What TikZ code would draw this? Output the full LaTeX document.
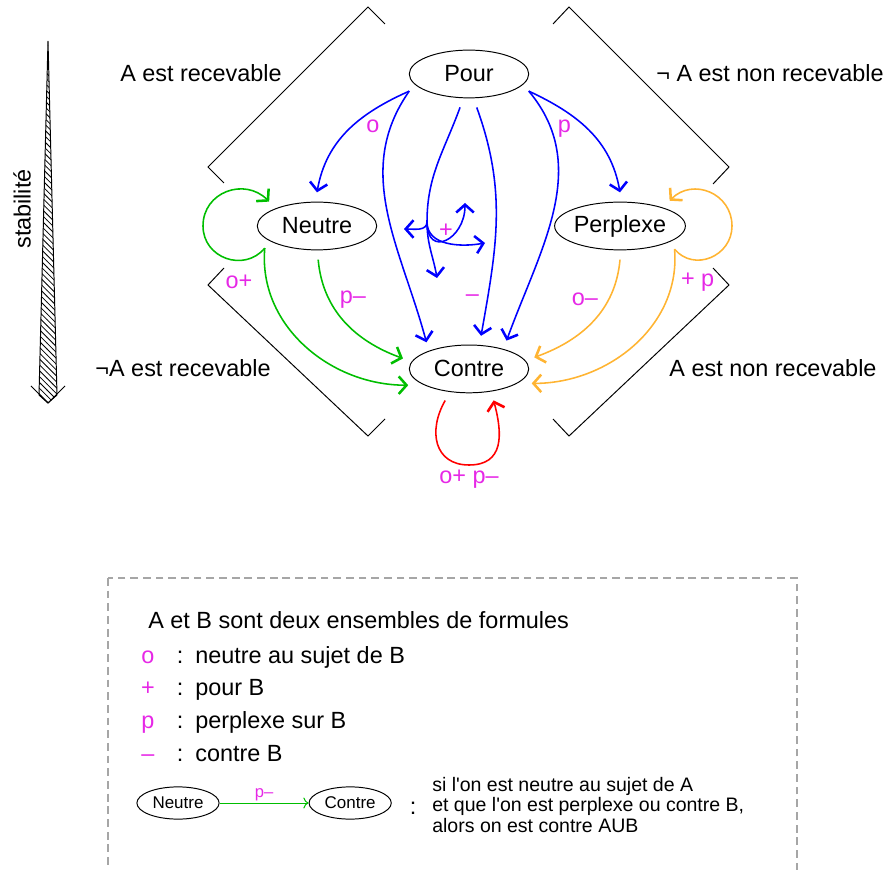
\documentclass[tikz,border=0pt]{standalone}
\usepackage{fontspec}
\setmainfont{Liberation Sans}
\usetikzlibrary{arrows.meta,shapes.geometric,patterns,positioning}

\definecolor{bleu}{RGB}{0,0,255}
\definecolor{vert}{RGB}{0,190,0}
\definecolor{jaune}{RGB}{255,180,50}
\definecolor{rouge}{RGB}{255,0,0}
\definecolor{rose}{RGB}{230,40,230}

\tikzset{
  etat/.style={ellipse, draw, line width=0.5pt, minimum width=2.15cm, minimum height=0.86cm, inner sep=0pt, outer sep=5pt},
  petit/.style={ellipse, draw, line width=0.5pt, minimum width=1.48cm, minimum height=0.58cm, inner sep=0pt, font=\fontsize{8.7}{10}\selectfont},
  lab/.style={text=rose, inner sep=1pt},
  cadre/.style={-, line width=0.5pt}
}

\begin{document}
\begin{tikzpicture}[x=0.018cm, y=0.018cm, ->, >={Straight Barb[length=4pt,width=9pt,line width=1.3pt]}, line width=0.8pt, font=\fontsize{12}{14}\selectfont]
    \useasboundingbox (0,0) rectangle (891,-870);

    \node[etat] (Pour) at (469,-74) {Pour};
    \node[etat, below of=Pour, node distance=5.31cm] (Contre) {Contre};
    \node[etat] (Neutre) at (317,-226) {Neutre};
    \node[etat] (Perplexe) at (620,-226) {Perplexe};

    % brackets
    \draw[cadre] (385,-24) -- (368,-7) -- (208,-167) -- (224,-183);
    \draw[cadre] (224,-268) -- (208,-285) -- (368,-436) -- (385,-419);
    \draw[cadre] (553,-24) -- (569,-7) -- (729,-167) -- (713,-184);
    \draw[cadre] (713,-268) -- (729,-285) -- (569,-436) -- (553,-419);
    \node (recA) at (201,-73) {A est recevable};
    \node (nonrecNA) at (770,-73) {¬ A est non recevable};
    \node (recNA) at (183,-368) {¬A est recevable};
    \node (nonrecA) at (773,-368) {A est non recevable};

    % stabilite
    \draw[cadre, pattern=north west lines] (48,-41) -- (57,-395) -- (48,-403) -- (39,-395) -- cycle;
    \draw[cadre] (31,-386) -- (48,-403) -- (65,-386);
    \node[rotate=90] (stab) at (22,-209) {stabilité};

    % pour
    \path[bleu]
      (Pour.196) edge[out=204, in=80] node[lab, pos=.35, below right] {o} (Neutre.90)
      (Pour.196) edge[out=235, in=105] (Contre.148)
      (Pour.283) edge[out=-70, in=80] node[lab, pos=.85, left=3pt] {–} (Contre.70)
      (Pour.344) edge[out=-50, in=70] (Contre.37)
      (Pour.344) edge[out=-25, in=100] node[lab, pos=.35, below left] {p} (Perplexe.90);
    \coordinate (plus) at (427,-222);
    \coordinate (plusG) at (404,-229);
    \coordinate (plusB) at (437,-278);
    \coordinate (plusD) at (485,-243);
    \coordinate (plusH) at (465,-203);
    \draw[bleu, -] (Pour.255) to[out=250, in=90] (plus);
    \path[bleu]
      (plus) edge[out=-90, in=0] (plusG)
      (plus) edge[out=-90, in=100] (plusB)
      (plus) edge[out=-90, in=190] (plusD)
      (plus) edge[out=-90, in=-90, looseness=2.2] node[lab, pos=.5, above] {+} (plusH);

    % neutre
    \coordinate (boucleN) at (203,-226);
    \draw[vert] (Neutre.203) to[out=230, in=-90, looseness=1.25] (boucleN)
      to[out=90, in=135, looseness=1.25] (Neutre.153);
    \path[vert]
      (Neutre.272) edge[out=-85, in=160] node[lab, pos=.3, right=4pt] {p–} (Contre.171)
      (Neutre.203) edge[out=-95, in=180] node[lab, pos=.15, left=6pt] {o+} (Contre.195);

    % perplexe
    \coordinate (boucleP) at (732,-226);
    \draw[jaune] (Perplexe.337) to[out=-50, in=-90, looseness=1.25] (boucleP)
      to[out=90, in=45, looseness=1.25] (Perplexe.27);
    \path[jaune]
      (Perplexe.270) edge[out=-95, in=20] node[lab, pos=.3, left=4pt] {o–} (Contre.10)
      (Perplexe.337) edge[out=-85, in=0] node[lab, pos=.15, right=3pt] {+ p} (Contre.347);

    % contre
    \coordinate (boucleC) at (469,-465);
    \draw[rouge] (Contre.233) to[out=240, in=180, looseness=1.3] (boucleC)
      to[out=0, in=-75, looseness=1.3] (Contre.308);
    \node[lab, below=1pt of boucleC] (lboucleC) {o+ p–};

    % legende
    \draw[-, gray!70, line width=0.6pt, dash pattern=on 4pt off 2.5pt] (108,-578) rectangle (797,-900);
    \node[anchor=base west] (titre) at (141,-628) {A et B sont deux ensembles de formules};
    \foreach \sym/\txt [count=\i] in {o/neutre au sujet de B, +/pour B, p/perplexe sur B, –/contre B} {
      \node[anchor=base, text=rose] (sym\i) at (148,{-663-32.7*(\i-1)}) {\sym};
      \node[anchor=base] (dp\i) at (180,{-663-32.7*(\i-1)}) {:};
      \node[anchor=base west] (txt\i) at (188,{-663-32.7*(\i-1)}) {\txt};
    }
    \node[petit] (NeutreL) at (178,-803) {Neutre};
    \node[petit, right of=NeutreL, node distance=3.1cm] (ContreL) {Contre};
    \draw[vert, line width=0.5pt, >=To] (NeutreL) -- node[above, text=rose, inner sep=1pt, font=\fontsize{8.5}{10}\selectfont] {p–} (ContreL);
    \node (deuxp) at (413,-808) {:};
    \node[anchor=west, align=left, font=\fontsize{10}{10.5}\selectfont] (expl) at (425,-805)
      {si l\textquotesingle on est neutre au sujet de A\\et que l\textquotesingle on est perplexe ou contre B,\\alors on est contre AUB};
\end{tikzpicture}
\end{document}
